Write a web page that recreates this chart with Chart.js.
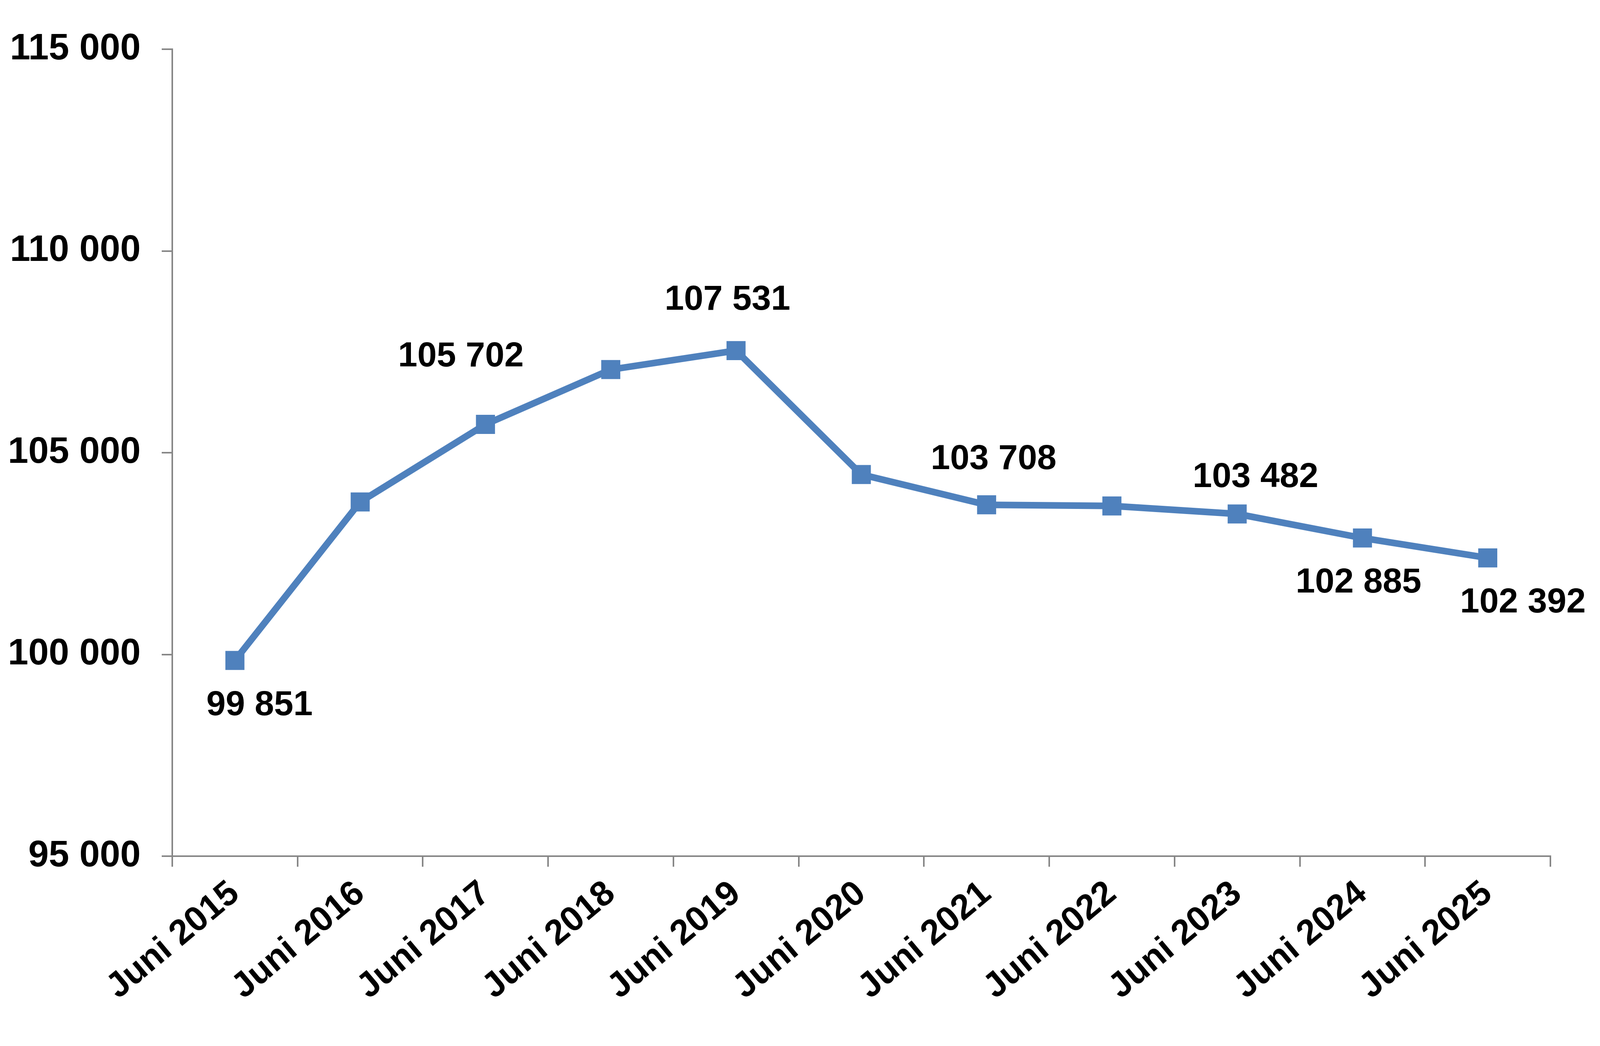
<!DOCTYPE html>
<html>
<head>
<meta charset="utf-8">
<script src="https://cdn.jsdelivr.net/npm/chart.js@4"></script>
<style>
  html, body { margin: 0; padding: 0; background: #ffffff; }
  canvas { display: block; }
</style>
</head>
<body>
<canvas id="c" width="4134" height="2678"></canvas>
<script>
// ---- data ----
const categories = ['Juni 2015','Juni 2016','Juni 2017','Juni 2018','Juni 2019','Juni 2020','Juni 2021','Juni 2022','Juni 2023','Juni 2024','Juni 2025'];
const values = [99851, 103780, 105702, 107060, 107531, 104460, 103708, 103680, 103482, 102885, 102392];
const labeledPoints = [true, false, true, false, true, false, true, false, true, true, true];
const yTickValues = [95000, 100000, 105000, 110000, 115000];

// ---- style ----
const FONT = "'Liberation Sans', Arial, sans-serif";
const AXIS_COLOR = '#868686';
const LINE_COLOR = '#4F81BD';
// label offset from its point (label cap centre), in px
const labelOffsets = {0:[63,108], 2:[-63,-180], 4:[-22,-136], 6:[18,-123], 8:[47,-101], 9:[-10,108], 10:[90,108]};

function fmt(v) {
  return String(Math.round(v)).replace(/\B(?=(\d{3})+(?!\d))/g, ' ');
}

const dataLabelPlugin = {
  id: 'dataLabelPlugin',
  afterDatasetsDraw(chart) {
    const ctx = chart.ctx;
    const meta = chart.getDatasetMeta(0);
    const size = 89;
    ctx.save();
    ctx.font = 'bold ' + size + 'px ' + FONT;
    ctx.fillStyle = '#000000';
    ctx.textAlign = 'center';
    ctx.textBaseline = 'alphabetic';
    meta.data.forEach((pt, i) => {
      if (!labeledPoints[i]) return;
      const off = labelOffsets[i] || [0, -100];
      ctx.fillText(fmt(values[i]), pt.x + off[0], pt.y + off[1] + 0.358 * size);
    });
    ctx.restore();
  }
};

new Chart(document.getElementById('c').getContext('2d'), {
  type: 'line',
  data: {
    labels: categories,
    datasets: [{
      data: values,
      borderColor: LINE_COLOR,
      backgroundColor: LINE_COLOR,
      borderWidth: 17,
      tension: 0,
      fill: false,
      pointStyle: 'rect',
      pointRadius: 34.5,
      pointHoverRadius: 34.5,
      pointBackgroundColor: LINE_COLOR,
      pointBorderColor: LINE_COLOR,
      pointBorderWidth: 0
    }]
  },
  options: {
    responsive: false,
    devicePixelRatio: 1,
    animation: false,
    events: [],
    layout: { padding: { top: 126, right: 165, left: 0, bottom: 0 } },
    plugins: { legend: { display: false }, tooltip: { enabled: false } },
    scales: {
      x: {
        type: 'category',
        offset: true,
        grid: {
          offset: true,
          drawOnChartArea: false,
          drawTicks: true,
          tickLength: 27,
          color: AXIS_COLOR,
          lineWidth: 4
        },
        border: { display: true, color: AXIS_COLOR, width: 4 },
        ticks: {
          autoSkip: false,
          minRotation: 40,
          maxRotation: 40,
          padding: 16,
          color: '#000000',
          font: { family: FONT, size: 90, weight: 'bold' }
        },
        afterFit(scale) { scale.height = 486; }
      },
      y: {
        min: 95000,
        max: 115000,
        afterBuildTicks(scale) { scale.ticks = yTickValues.map(v => ({ value: v })); },
        grid: {
          drawOnChartArea: false,
          drawTicks: true,
          tickLength: 27,
          color: AXIS_COLOR,
          lineWidth: 4
        },
        border: { display: true, color: AXIS_COLOR, width: 4 },
        ticks: {
          padding: 54,
          color: '#000000',
          font: { family: FONT, size: 94, weight: 'bold' },
          callback: (v) => fmt(v)
        },
        afterFit(scale) { scale.width = 441; }
      }
    }
  },
  plugins: [dataLabelPlugin]
});
</script>
</body>
</html>
